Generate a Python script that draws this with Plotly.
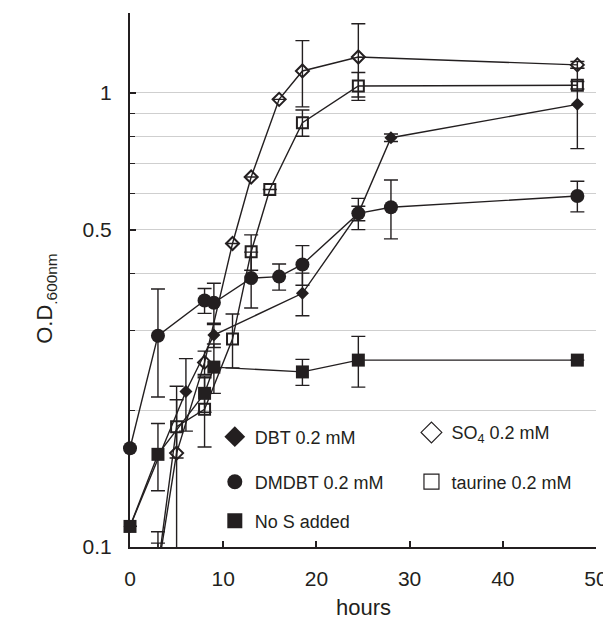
import math
import plotly.graph_objects as go

ink = "#231f20"
grid = "#cfcfcf"
font_family = "Liberation Sans, Arial, Helvetica, sans-serif"

# ---- data (hours, O.D. 600 nm, +/- error) ----
dbt_x = [0, 6, 9, 18.5, 24.5, 28, 48]
dbt_y = [0.111, 0.22, 0.293, 0.362, 0.543, 0.797, 0.944]
dbt_err = [None, 0.04, 0.018, 0.039, 0.02, 0.015, 0.19]

dmdbt_x = [0, 3, 8, 9, 13, 16, 18.5, 24.5, 28, 48]
dmdbt_y = [0.165, 0.292, 0.349, 0.345, 0.391, 0.394, 0.419, 0.543, 0.56, 0.593]
dmdbt_err = [None, 0.078, 0.022, 0.036, 0.055, 0.026, 0.042, 0.043, 0.083, 0.046]

nos_x = [0, 3, 8, 9, 18.5, 24.5, 48]
nos_y = [0.111, 0.16, 0.218, 0.249, 0.243, 0.258, 0.258]
nos_err = [None, 0.027, 0.02, 0.031, 0.016, 0.033, None]

so4_x = [3, 5, 8, 11, 13, 16, 18.5, 24.5, 48]
so4_y = [0.089, 0.161, 0.255, 0.466, 0.653, 0.968, 1.118, 1.20, 1.153]
so4_err = [0.019, 0.065, 0.015, None, None, None, 0.186, 0.22, 0.02]

tau_x = [3, 5, 8, 11, 13, 15, 18.5, 24.5, 48]
tau_y = [0.09, 0.184, 0.201, 0.287, 0.447, 0.613, 0.86, 1.036, 1.04]
tau_err = [0.012, 0.027, 0.035, 0.039, 0.04, None, 0.057, 0.073, 0.02]

x_ticks = [0, 10, 20, 30, 40, 50]
y_ticks = [0.1, 0.5, 1]
y_ticktext = ["0.1", "0.5", "1"]
y_minor = [0.2, 0.3, 0.4, 0.6, 0.7, 0.8, 0.9, 1.5]

series = [
    # name, x, y, err, symbol, size, legend-size, legend id, clip
    ("DBT 0.2 mM", dbt_x, dbt_y, dbt_err, "diamond", 10, 16, "legend", False),
    ("SO<sub>4</sub> 0.2 mM", so4_x, so4_y, so4_err, "diamond-open", 10, 16, "legend2", True),
    ("DMDBT 0.2 mM", dmdbt_x, dmdbt_y, dmdbt_err, "circle", 14, 15, "legend3", False),
    ("taurine 0.2 mM", tau_x, tau_y, tau_err, "square-open", 11, 15, "legend4", True),
    ("No S added", nos_x, nos_y, nos_err, "square", 13, 15, "legend5", False),
]

fig = go.Figure()
for name, xs, ys, errs, sym, sz, lsz, leg, clip in series:
    is_open = sym.endswith("open")
    fig.add_trace(go.Scatter(
        x=xs, y=ys, mode="lines+markers", showlegend=False, cliponaxis=clip,
        line=dict(color=ink, width=1.4),
        marker=dict(symbol=sym, size=sz, color=ink,
                    line=dict(color=ink, width=2 if is_open else 0)),
        error_y=dict(type="data", array=errs, symmetric=True,
                     color=ink, thickness=1.4, width=7),
    ))
    fig.add_trace(go.Scatter(
        x=[None], y=[None], mode="markers", name=name, legend=leg,
        marker=dict(symbol=sym, size=lsz, color=ink,
                    line=dict(color=ink, width=1.2 if is_open else 0)),
    ))

# legend placement (paper coords)
leg_pos = {
    "legend": (0.182, 0.206),
    "legend2": (0.604, 0.214),
    "legend3": (0.182, 0.1217),
    "legend4": (0.604, 0.1217),
    "legend5": (0.182, 0.0487),
}
leg_layout = {}
for k, (lx, ly) in leg_pos.items():
    leg_layout[k] = dict(x=lx, y=ly, xanchor="left", yanchor="middle",
                         bgcolor="rgba(0,0,0,0)", borderwidth=0,
                         font=dict(family=font_family, size=18, color=ink))

# the page body adds an 8px offset; the figure size/margins compensate for it
fig.update_layout(
    width=611, height=615,
    margin=dict(l=122, r=23, t=5, b=76),
    paper_bgcolor="white", plot_bgcolor="white",
    font=dict(family=font_family, color=ink),
    **leg_layout,
    xaxis=dict(
        range=[0, 50], tickvals=x_ticks, ticks="inside", ticklen=6, tickwidth=1.5,
        tickcolor=ink, showline=True, linecolor=ink, linewidth=2, showgrid=False,
        zeroline=False, tickfont=dict(size=21, color=ink), ticklabelstandoff=12,
    ),
    yaxis=dict(
        type="log", range=[-1, math.log10(1.5)], tickvals=y_ticks, ticktext=y_ticktext,
        ticks="inside", ticklen=6, tickwidth=1.5, tickcolor=ink,
        showline=True, linecolor=ink, linewidth=2, zeroline=False,
        showgrid=True, gridcolor=grid, gridwidth=1,
        tickfont=dict(size=21, color=ink), ticklabelstandoff=12,
        minor=dict(tickvals=y_minor, ticks="inside", ticklen=5, tickwidth=1,
                   tickcolor=ink, showgrid=True, gridcolor=grid, gridwidth=1),
    ),
    annotations=[
        dict(text="O.D<sub>.600nm</sub>", xref="paper", yref="paper",
             x=-0.18, y=0.465, textangle=-90, showarrow=False,
             xanchor="center", yanchor="middle",
             font=dict(size=22, color=ink, family=font_family)),
        dict(text="hours", xref="paper", yref="paper", x=0.5, y=-0.114,
             showarrow=False, xanchor="center", yanchor="middle",
             font=dict(size=22, color=ink, family=font_family)),
    ],
)

fig.write_html("out.html")
